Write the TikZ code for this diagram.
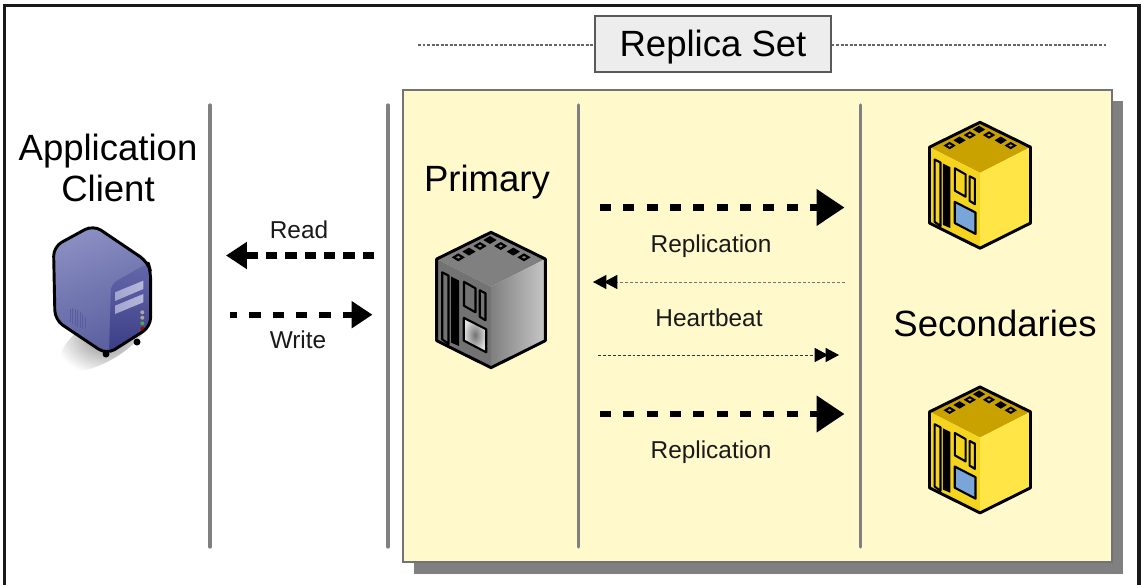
\documentclass[tikz,border=0pt]{standalone}
\usepackage{fontspec}
\setmainfont{Liberation Sans}
\usetikzlibrary{arrows.meta,shadings}
\definecolor{panelfill}{HTML}{FFF9CC}
\definecolor{barcol}{HTML}{808080}
\definecolor{ytop}{HTML}{C9A200}
\definecolor{yleft}{HTML}{F4D41E}
\definecolor{yright}{HTML}{FFE545}
\definecolor{yscreen}{HTML}{7AA5D8}
\definecolor{clleft}{HTML}{8A8EC2}
\definecolor{clleftb}{HTML}{5A5E9E}
\definecolor{clfront}{HTML}{3A3C84}
\definecolor{clfronttop}{HTML}{6468AA}
\definecolor{clslot}{HTML}{A2A5D0}
\tikzset{
  bigtext/.style={font=\fontsize{27.4}{30.8}\selectfont,text=black,inner sep=0pt,align=center},
  smalltext/.style={font=\fontsize{18.3}{22}\selectfont,text=black!90,inner sep=0pt},
  divider/.style={draw=barcol,line width=2.4pt,line cap=round},
  bigflow/.style={line width=4.9pt,dash pattern=on 8.3pt off 9.2pt,-{Triangle[length=21pt,width=26.5pt]}},
  readflow/.style={line width=4.7pt,dash pattern=on 8.6pt off 5.9pt,-{Triangle[length=15.7pt,width=19.5pt]}},
  writeflow/.style={line width=4.7pt,dash pattern=on 8.6pt off 8.9pt,dash phase=3pt,-{Triangle[length=15.7pt,width=19.5pt]}},
  beat/.style={line width=0.75pt,dash pattern=on 2.2pt off 1.5pt,-{Triangle[length=10pt,width=10.5pt,color=black,sep=-1.8pt]Triangle[length=10pt,width=10.5pt,color=black]}},
  titlebox/.style={draw=black!65,line width=0.8pt,fill=black!7,minimum width=177pt,minimum height=42pt,inner sep=0pt,
     text height=19.5pt,text depth=0pt,font=\fontsize{27.4}{30.8}\selectfont},
  titledots/.style={draw=black!60,line width=0.8pt,dash pattern=on 2.2pt off 1.2pt},
  iconline/.style={draw=black,line width=2.2pt,line join=round},
  iconthin/.style={draw=black,line width=1.6pt,line join=round},
}
% #1 x, #2 y, #3 scale, #4 top, #5 left, #6 right inner, #7 right outer, #8 screen
\newcommand{\cubeicon}[8]{%
  \begin{scope}[shift={(#1,#2)},x=#3*0.75pt,y=-#3*0.75pt]
    \fill[#4] (0,0) -- (54.3,26.7) -- (0,54.4) -- (-54.3,26.7) -- cycle;
    \fill[#5] (-54.3,26.7) -- (0,54.4) -- (0,135.4) -- (-54.3,108.4) -- cycle;
    \shade[left color=#6,right color=#7] (0,54.4) -- (54.3,26.7) -- (54.3,108.4) -- (0,135.4) -- cycle;
    \draw[iconline] (-54.3,26.7) -- (0,0) -- (54.3,26.7) -- (54.3,108.4) -- (0,135.4) -- (-54.3,108.4) -- cycle;
    \foreach \sx/\sy/\hole in {-32.7/25/1,-22/19.3/0,-11/13.7/1,-1/7.7/0,9.7/13.7/1,22.3/19.3/0,33/25/1}{
      \fill[black] (\sx-6.6,\sy) -- (\sx,\sy-4) -- (\sx+6.6,\sy) -- (\sx,\sy+4) -- cycle;
      \ifnum\hole=1 \fill[#4] (\sx-2.2,\sy) -- (\sx,\sy-1.3) -- (\sx+2.2,\sy) -- (\sx,\sy+1.3) -- cycle;\fi
    }
    \draw[iconthin] (-48.8,40) -- (-42.5,43.3) -- (-42.5,111.7) -- (-48.8,107) -- cycle;
    \fill[black] (-40,44.3) -- (-32,48.3) -- (-32,113.7) -- (-40,110.3) -- cycle;
    \draw[iconthin] (-27,49.5) -- (-15.5,56) -- (-15.5,80) -- (-27,73.5) -- cycle;
    \draw[iconthin] (-11.2,58) -- (-5.5,61) -- (-5.5,88) -- (-11.2,84.5) -- cycle;
    \draw[iconthin,#8] (-27.2,85.5) -- (-4.8,97) -- (-4.8,120) -- (-27.2,108.3) -- cycle;
  \end{scope}%
}
\begin{document}
\begin{tikzpicture}[x=0.75pt,y=-0.75pt]
\useasboundingbox (0,0) rectangle (1141,585);
% frame
\draw[black!90,line width=2.3pt] (4.5,585) -- (4.5,5.5) -- (1139,5.5) -- (1139,585);
% panel and shadow
\fill[barcol] (414,101) rectangle (1123,574);
\filldraw[fill=panelfill,draw=black!55,line width=1pt] (403,90) rectangle (1112,562);
% dividers
\foreach \name/\px in {da/210,db/388,dc/578.7,dd/860.5}{
  \coordinate (\name t) at (\px,105);
  \coordinate (\name b) at (\px,547);
  \draw[divider] (\name t) -- (\name b);
}
% title
\node[titlebox] (title) at (713,44) {Replica Set};
\coordinate (tl) at (418,45);
\coordinate (tr) at (1108,45);
\draw[titledots] (tl) -- (title.west |- tl);
\draw[titledots] (title.east |- tr) -- (tr);
% labels
\node[bigtext] (client) at (108,167.5) {Application\\Client};
\node[bigtext] (primary) at (487,182) {Primary};
\node[bigtext] (secondaries) at (995,323) {Secondaries};
\node[smalltext] (read) at (299,230) {Read};
\node[smalltext] (write) at (298,340) {Write};
\node[smalltext] (rep1) at (711,246) {Replication};
\node[smalltext] (hb) at (709,318) {Heartbeat};
\node[smalltext] (rep2) at (711,452) {Replication};
% connectors
\coordinate (ra) at (374,255.5); \coordinate (rb) at (226,255.5);
\coordinate (wa) at (230,314.7); \coordinate (wb) at (372.5,314.7);
\coordinate (p1a) at (600,207.5); \coordinate (p1b) at (844.5,207.5);
\coordinate (p2a) at (600,414); \coordinate (p2b) at (844.5,414);
\coordinate (h1a) at (845,282); \coordinate (h1b) at (593,282);
\coordinate (h2a) at (598,355); \coordinate (h2b) at (839,355);
\draw[readflow] (ra) -- (rb);
\draw[writeflow] (wa) -- (wb);
\draw[bigflow] (p1a) -- (p1b);
\draw[bigflow] (p2a) -- (p2b);
\draw[beat,draw=black!55] (h1a) -- (h1b);
\draw[beat,draw=black!80] (h2a) -- (h2b);
% cubes
\cubeicon{491}{232.3}{1}{black!50}{black!55}{black!50}{black!22}{inner color=black!55,outer color=black!12}
\cubeicon{980}{122.3}{0.93}{ytop}{yleft}{yright}{yright}{fill=yscreen}
\cubeicon{980}{387}{0.93}{ytop}{yleft}{yright}{yright}{fill=yscreen}
% client server
\shade[inner color=black!45,outer color=white,rotate around={32:(105,338)}] (105,338) ellipse (52 and 22);
\fill[black] (137,342) circle (3.5);
\fill[black] (106,354) circle (3.5);
\shade[left color=clleft,right color=clleftb,shading angle=20,rounded corners=7pt]
  (53.5,246.7) -- (93.3,225) -- (148,262) -- (150.7,272) -- (150.7,326.7) -- (106.7,354.5) -- (55,320) -- cycle;
\shade[top color=clfronttop,bottom color=clfront,rounded corners=5pt]
  (109,354) -- (111,284) -- (148,263) -- (150.7,272) -- (150.7,326.7) -- cycle;
\shade[left color=clslot,right color=clslot!80] (115,292.3) -- (143.3,280.7) -- (143.3,289) -- (115,301) -- cycle;
\shade[left color=clslot,right color=clslot!80] (115,305.7) -- (143.3,294) -- (143.3,302.3) -- (115,314) -- cycle;
\fill[black!35] (142.3,312.3) circle (2);
\fill[black!35] (142.3,317.7) circle (2);
\fill[green!50!black!70] (142.3,323.3) circle (2);
\fill[red!70!black] (142.3,328.7) circle (2);
\foreach \vx/\vt/\vb in {70/309/322,72.5/308/324,75/309/326,77.5/310/327,80/312/328,82.5/314/329,85/317/328}{
  \draw[clfront!60!clleft,line width=0.7pt] (\vx,\vt) -- (\vx,\vb);
}
\draw[black,line width=2.2pt,rounded corners=7pt,line join=round]
  (53.5,246.7) -- (93.3,225) -- (148,262) -- (150.7,272) -- (150.7,326.7) -- (106.7,354.5) -- (55,320) -- cycle;
\end{tikzpicture}
\end{document}
